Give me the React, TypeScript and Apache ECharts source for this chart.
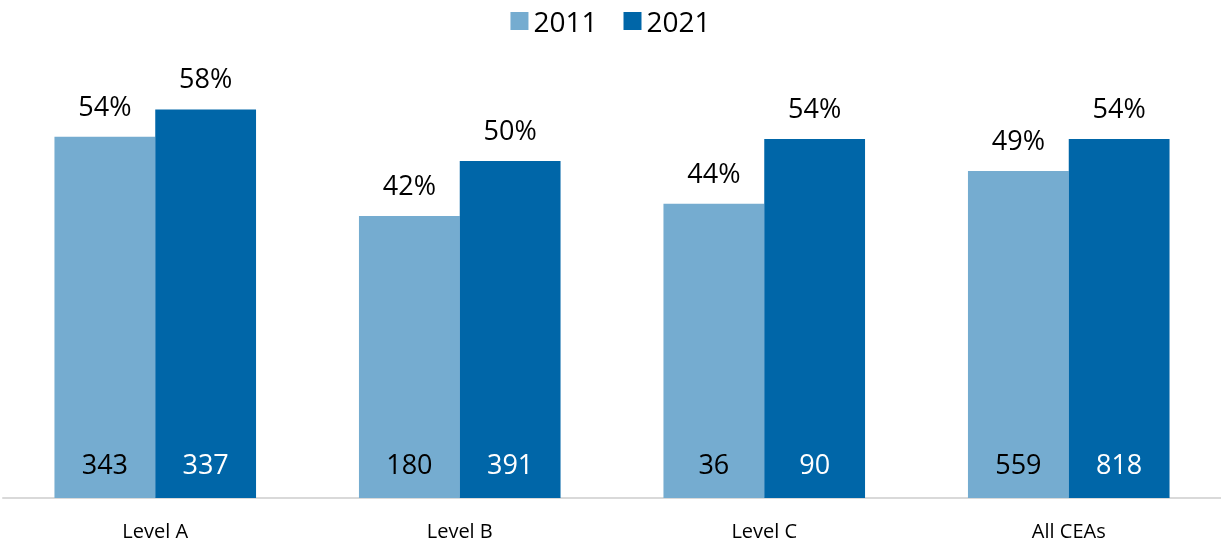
import React, { useEffect, useRef } from "react";
import * as echarts from "echarts";

const categories = ["Level A", "Level B", "Level C", "All CEAs"];
const seriesNames = ["2011", "2021"];
const pct2011 = [53.9, 42.1, 43.9, 48.8];
const pct2021 = [58.0, 50.3, 53.6, 53.6];
const count2011 = [343, 180, 36, 559];
const count2021 = [337, 391, 90, 818];

const colors = ["#75acd0", "#0066a8"];
const FONT = "Open Sans";

export default function App() {
  const ref = useRef<HTMLDivElement>(null);
  useEffect(() => {
    if (!ref.current) return;
    const chart = echarts.init(ref.current, undefined, { renderer: "svg" });

    const barSeries = (name: string, vals: number[], counts: number[], color: string, countColor: string) => ({
      name,
      type: "bar",
      data: vals,
      barGap: "0%",
      barCategoryGap: "33.8%",
      itemStyle: { color },
      label: {
        show: true,
        position: "insideBottom",
        distance: 21,
        formatter: (p: any) => String(counts[p.dataIndex]),
        color: countColor,
        fontSize: 27,
        fontFamily: FONT,
      },
    });
    const topLabelSeries = (name: string, vals: number[]) => ({
      name,
      type: "bar",
      data: vals,
      xAxisIndex: 1,
      barGap: "0%",
      barCategoryGap: "33.8%",
      silent: true,
      itemStyle: { color: "rgba(0,0,0,0)" },
      label: {
        show: true,
        position: "top",
        distance: 18,
        formatter: (p: any) => Math.round(p.value) + "%",
        color: "#000",
        fontSize: 27,
        fontFamily: FONT,
      },
    });

    chart.setOption({
      animation: false,
      legend: {
        top: 2,
        left: "center",
        itemWidth: 18,
        itemHeight: 18,
        itemGap: 26,
        icon: "rect",
        textStyle: { fontSize: 28, fontFamily: FONT, color: "#000" },
        data: seriesNames,
      },
      grid: { left: 3, right: 0, top: 96, bottom: 46, containLabel: false },
      xAxis: [
        {
          type: "category",
          data: categories,
          axisLine: { show: true, lineStyle: { color: "#d9d9d9", width: 2 } },
          axisTick: { show: false },
          axisLabel: { fontSize: 20, fontFamily: FONT, color: "#000", margin: 22 },
        },
        { type: "category", data: categories, show: false },
      ],
      yAxis: { type: "value", min: 0, max: 60, show: false, splitLine: { show: false } },
      series: [
        barSeries(seriesNames[0], pct2011, count2011, colors[0], "#000"),
        barSeries(seriesNames[1], pct2021, count2021, colors[1], "#fff"),
        topLabelSeries(seriesNames[0], pct2011),
        topLabelSeries(seriesNames[1], pct2021),
      ],
    });
    return () => chart.dispose();
  }, []);
  return (
    <div ref={ref} style={{ position: "fixed", left: 0, top: 0, width: 1221, height: 544 }} />
  );
}
